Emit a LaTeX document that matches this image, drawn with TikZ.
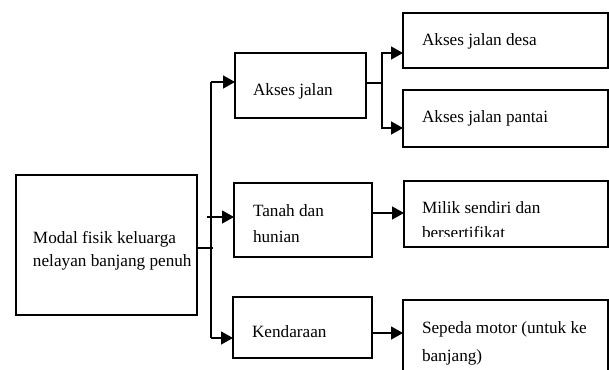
\documentclass[tikz,border=0pt]{standalone}
\usepackage{fontspec}
\setmainfont{Liberation Serif}
\usetikzlibrary{arrows.meta}

% Text block of a box: width, height, left indent, first baseline, line skip, text
\newcommand{\celltext}[6]{%
  \parbox[c][#2][t]{#1}{\fontsize{17.2}{#5}\selectfont\raggedright
    \leftskip=#3\relax\rule{0pt}{#4}#6}}

\begin{document}
\begin{tikzpicture}[x=1pt,y=-1pt,
  box/.style={draw, line width=1.8pt, inner sep=0pt, outer sep=0pt, anchor=north west},
  conn/.style={line width=1.3pt},
  arr/.style={conn, -{Triangle[length=12pt,width=13pt]}}]
\useasboundingbox (0,0) rectangle (609,369);
\clip (0,0) rectangle (609,369);

% boxes
\node[box] (main) at (16,175)
  {\celltext{181pt}{140pt}{17pt}{68pt}{23.4pt}{Modal fisik keluarga\\nelayan banjang penuh}};
\node[box] (akses) at (235,53)
  {\celltext{131pt}{65pt}{18pt}{42pt}{25pt}{Akses jalan}};
\node[box] (desa) at (403,13)
  {\celltext{205pt}{55pt}{19pt}{32pt}{25pt}{Akses jalan desa}};
\node[box] (pantai) at (403,90)
  {\celltext{205pt}{57pt}{19pt}{32pt}{25pt}{Akses jalan pantai}};
\node[box] (tanah) at (234,183)
  {\celltext{138pt}{74pt}{19pt}{33pt}{26pt}{Tanah dan\\hunian}};
\node[box, minimum width=204pt, minimum height=66pt] (milik) at (404,181) {};
\begin{scope}
  \clip (404,181) rectangle (608,236.5);
  \node[box, draw=none] (milikText) at (404,181)
    {\celltext{204pt}{66pt}{18pt}{32pt}{25pt}{Milik sendiri dan\\bersertifikat}};
\end{scope}
\node[box] (kend) at (233,297)
  {\celltext{139pt}{61pt}{19pt}{40pt}{25pt}{Kendaraan}};
\node[box] (sepeda) at (403,300)
  {\celltext{205pt}{80pt}{19pt}{33pt}{28pt}{Sepeda motor (untuk ke\\banjang)}};

% trunk from the main box
\coordinate (tk) at (211,248);
\coordinate (tkTop) at (211,82);
\coordinate (tkBot) at (211,338);
\coordinate (tkTanah) at (207,217);
\draw[conn] (main.east |- tk) -- ([xshift=2pt]tk);
\draw[conn] (tkTop) -- (tkBot);
\draw[arr] (tkTop) -- (akses.west |- tkTop);
\draw[arr] (tkTanah) -- (tanah.west |- tkTanah);
\draw[arr] (tkBot) -- (kend.west |- tkBot);

% branch of Akses jalan
\coordinate (brA) at (382,83);
\draw[conn] (akses.east |- brA) -- (brA);
\draw[arr] (brA) |- (desa.west |- 0,53);
\draw[arr] (brA) |- (pantai.west |- 0,128);

% single links
\draw[arr] (tanah.east |- 0,213) -- (milik.west |- 0,213);
\draw[arr] (kend.east |- 0,333) -- (sepeda.west |- 0,333);
\end{tikzpicture}
\end{document}
